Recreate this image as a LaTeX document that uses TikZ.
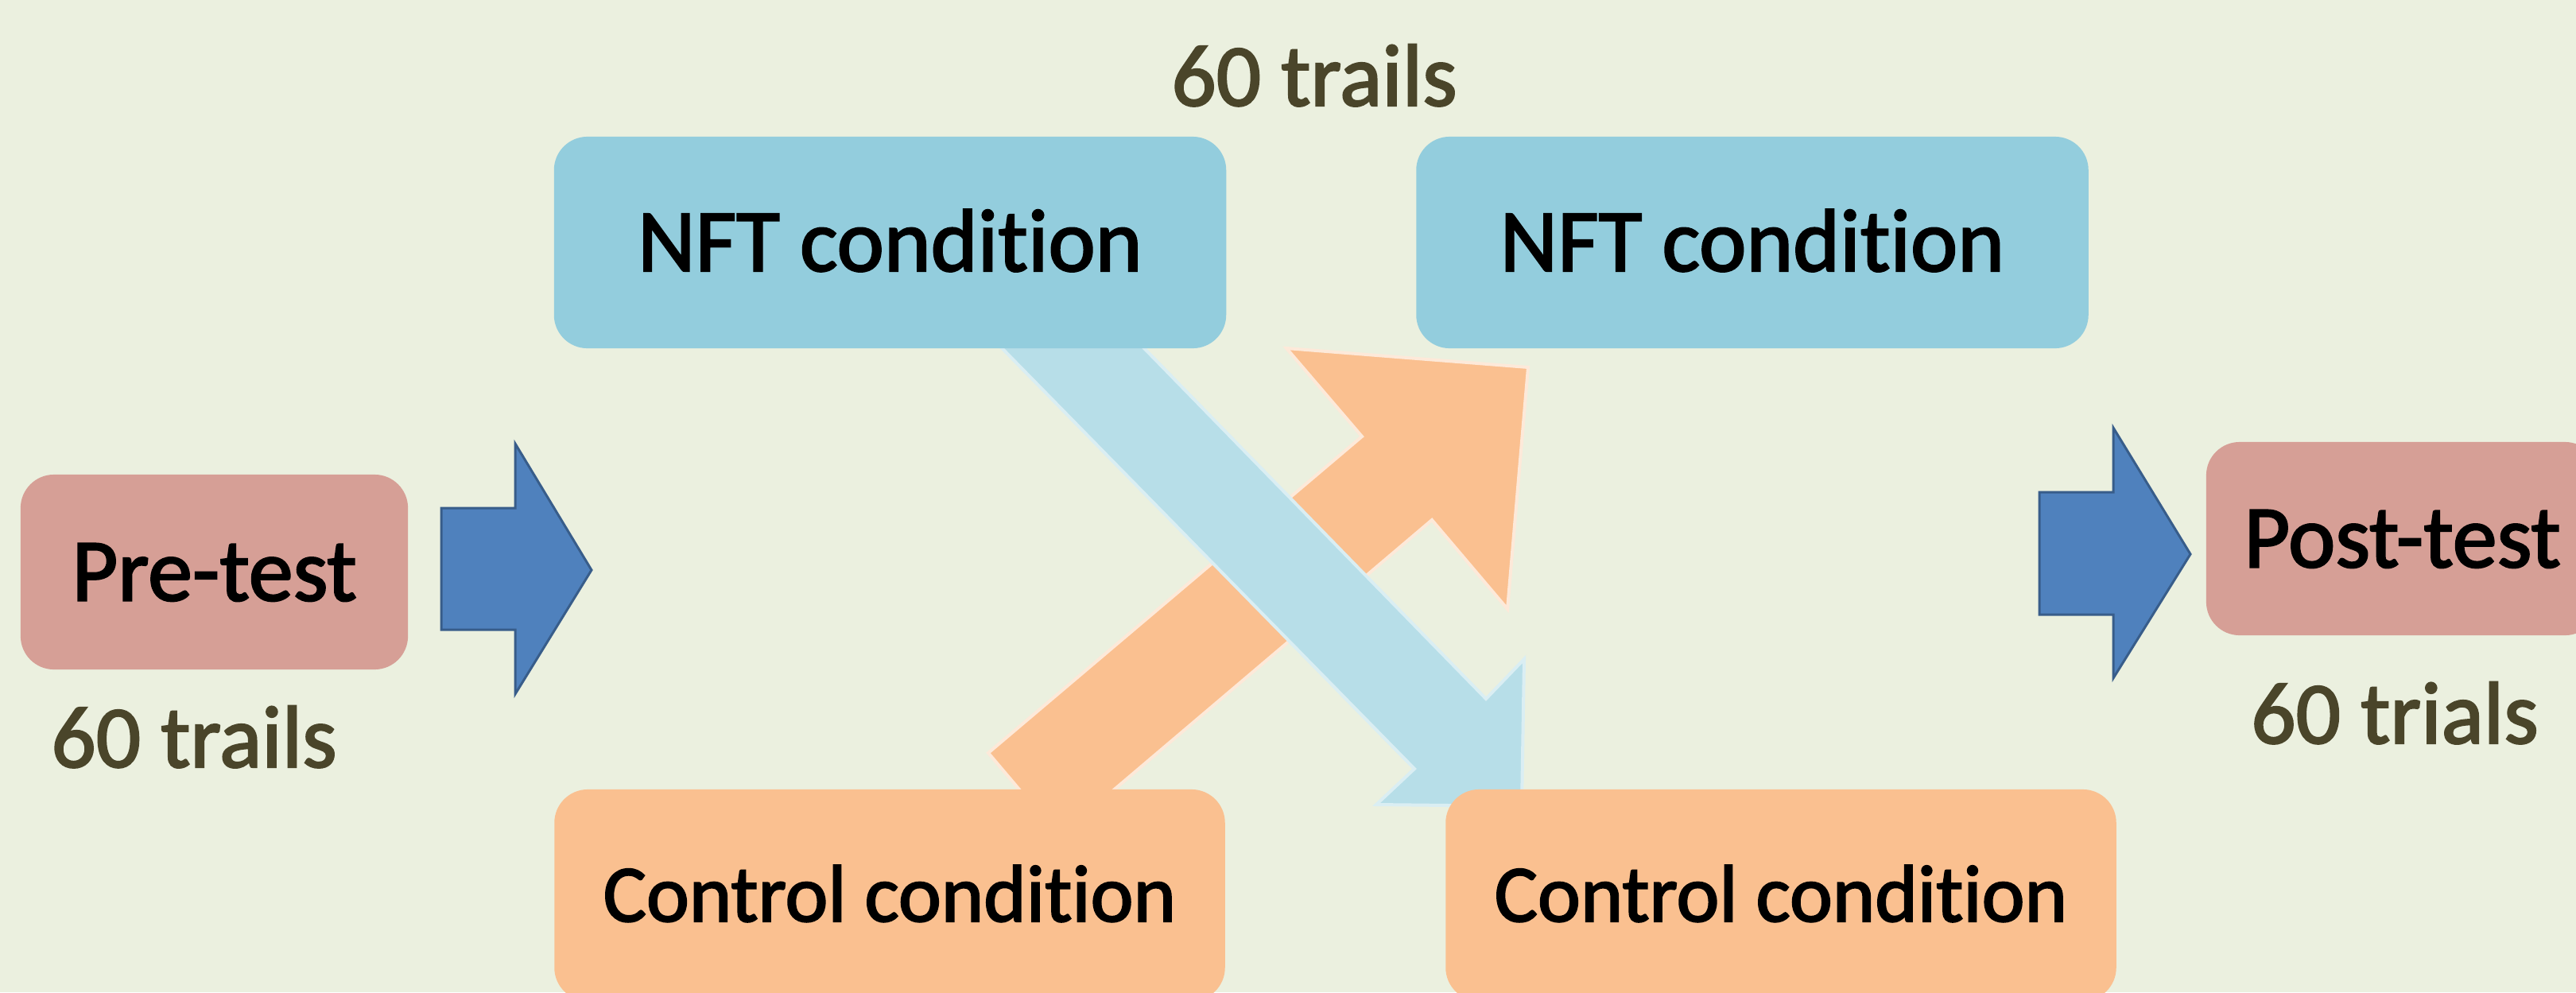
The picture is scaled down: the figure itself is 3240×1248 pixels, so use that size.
\documentclass[tikz,border=0pt]{standalone}
\usepackage{fontspec}
\setmainfont{Carlito}[Ligatures=NoCommon, FakeBold=2]
\definecolor{bg}{HTML}{EBF0DF}
\definecolor{rosebox}{HTML}{D69F96}
\definecolor{nftbox}{HTML}{93CDDD}
\definecolor{ctrlbox}{HTML}{FAC090}
\definecolor{bluearr}{HTML}{4F81BD}
\definecolor{bluearrline}{HTML}{385D8A}
\definecolor{lightblue}{HTML}{B7DEE8}
\definecolor{lightblueline}{HTML}{DAEEF3}
\definecolor{orangeline}{HTML}{FDE9D9}
\definecolor{olive}{HTML}{4A452A}
\newcommand{\boxfont}{\fontsize{31.9pt}{36pt}\selectfont}
\newcommand{\ctrlfont}{\fontsize{29pt}{33pt}\selectfont}
\newcommand{\labfont}{\fontsize{31.6pt}{36pt}\selectfont}
\tikzset{
  box/.style={rounded corners=0.42cm, inner sep=0pt, align=center, text depth=0pt},
  bigbox/.style={box, font=\boxfont, text height=0.72cm},
  ctrl/.style={box, fill=ctrlbox, font=\ctrlfont, text height=0.66cm, minimum width=8.43cm, minimum height=2.66cm},
  nft/.style={bigbox, fill=nftbox, minimum width=8.45cm, minimum height=2.66cm},
  trials/.style={font=\labfont, text=olive, anchor=base, inner sep=0pt},
  stepper/.style={fill=bluearr, draw=bluearrline, line width=0.03cm, line join=miter},
  crossblue/.style={fill=lightblue, draw=lightblueline, line width=0.04cm, line join=miter},
  crossorange/.style={fill=ctrlbox, draw=orangeline, line width=0.04cm, line join=miter}
}
\begin{document}
\begin{tikzpicture}[x=0.01cm, y=-0.01cm]
\useasboundingbox (0,0) rectangle (3240,1248);
\fill[bg] (0,0) rectangle (3240,1248);
\clip (0,0) rectangle (3240,1248);

% crossing arrows (behind boxes)
\draw[crossorange] (1243,947) -- (1713,549) -- (1618,438) -- (1922,462) -- (1896,766) -- (1801,654) -- (1332,1052) -- cycle;
\draw[crossblue] (1223,400) -- (1779,967) -- (1731,1012) -- (1914,1014) -- (1917,829) -- (1869,879) -- (1402,400) -- cycle;

% boxes
\node[bigbox, fill=rosebox, minimum width=4.87cm, minimum height=2.45cm] (pre) at (269.5,719.5) {Pre-test};
\node[nft] (nft1) at (1119.5,305) {NFT condition};
\node[nft] (nft2) at (2204,305) {NFT condition};
\node[ctrl] (ctrl1) at (1119,1126) {Control condition};
\node[ctrl] (ctrl2) at (2240,1126) {Control condition};
\node[bigbox, fill=rosebox, minimum width=4.93cm, minimum height=2.43cm] (post) at (3021.5,677.5) {Post-test};

% step arrows
\draw[stepper] (555,639) -- (648,639) -- (648,558) -- (744,717) -- (648,873) -- (648,792) -- (555,792) -- cycle;
\draw[stepper] (2565,619) -- (2658,619) -- (2658,538) -- (2755,697) -- (2658,853) -- (2658,773) -- (2565,773) -- cycle;

% labels
\node[trials] (lab1) at (1653,133) {60 trails};
\node[trials] (lab2) at (244,965) {60 trails};
\node[trials] (lab3) at (3012,935) {60 trials};
\end{tikzpicture}
\end{document}
